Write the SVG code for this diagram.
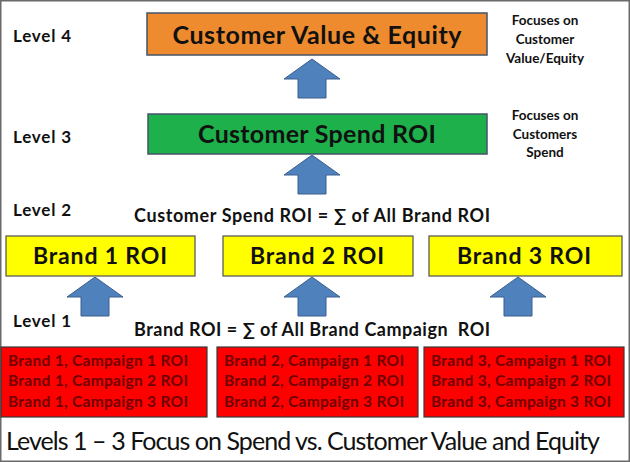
<svg xmlns="http://www.w3.org/2000/svg" width="630" height="462" viewBox="0 0 630 462">
<style>
  text { font-family: Lato, "Open Sans", "Liberation Sans", "DejaVu Sans", sans-serif; font-weight: bold; fill: #111; }
  .lvl { font-size: 17px; }
  .note { font-size: 13.5px; text-anchor: middle; }
  .title { font-size: 25px; text-anchor: middle; }
  .brand { font-size: 23px; text-anchor: middle; }
  .formula { font-size: 18px; }
  .camp { font-size: 15.5px; fill: #6E0000; }
  .bottom { font-size: 25px; font-weight: normal; }
  .box { stroke: #44546A; stroke-width: 1.5; }
  .rbox { fill: #FF0000; stroke: #3A3A3A; stroke-width: 1.2; }
  .ybox { fill: #FFFF00; stroke: #505050; stroke-width: 1.2; }
  .arrow { fill: #4F81BD; stroke: #3A5F8C; stroke-width: 1; }
</style>
<defs>
  <path id="up" d="M0,0 L28,20 L14,20 L14,39 L-14,39 L-14,20 L-28,20 Z"/>
</defs>
<rect x="0.75" y="0.75" width="628.5" height="460.5" fill="#FFFFFF" stroke="#6A6A6A" stroke-width="1.5"/>

<g id="level-labels">
  <text class="lvl" x="13" y="42" textLength="58">Level 4</text>
  <text class="lvl" x="13" y="143" textLength="58">Level 3</text>
  <text class="lvl" x="13" y="216" textLength="58">Level 2</text>
  <text class="lvl" x="13" y="327" textLength="58">Level 1</text>
</g>

<g id="node-level4">
  <rect class="box" x="147" y="13" width="340" height="42" fill="#EE8B2F"/>
  <text class="title" x="317" y="44" textLength="289">Customer Value &amp; Equity</text>
</g>
<g id="note-level4">
  <text class="note" x="545" y="25">Focuses on</text>
  <text class="note" x="545" y="44">Customer</text>
  <text class="note" x="545" y="63">Value/Equity</text>
</g>

<g id="node-level3">
  <rect class="box" x="148" y="114" width="339" height="40" fill="#1DB04B"/>
  <text class="title" x="317" y="143" textLength="238">Customer Spend ROI</text>
</g>
<g id="note-level3">
  <text class="note" x="545" y="120">Focuses on</text>
  <text class="note" x="545" y="139">Customers</text>
  <text class="note" x="545" y="157">Spend</text>
</g>

<g id="formula-level2">
  <text class="formula" x="134" y="222" textLength="356">Customer Spend ROI = ∑ of All Brand ROI</text>
</g>

<g id="node-brand1">
  <rect class="ybox" x="6" y="236" width="189" height="40"/>
  <text class="brand" x="100" y="264" textLength="134">Brand 1 ROI</text>
</g>
<g id="node-brand2">
  <rect class="ybox" x="223" y="236" width="190" height="40"/>
  <text class="brand" x="317" y="264" textLength="134">Brand 2 ROI</text>
</g>
<g id="node-brand3">
  <rect class="ybox" x="429" y="236" width="193" height="40"/>
  <text class="brand" x="524" y="264" textLength="134">Brand 3 ROI</text>
</g>

<g id="formula-level1">
  <text class="formula" x="134" y="336" textLength="356">Brand ROI = ∑ of All Brand Campaign&#160; ROI</text>
</g>

<g id="node-campaigns1">
  <rect class="rbox" x="1" y="347" width="206" height="70"/>
  <text class="camp" x="8" y="366" textLength="180">Brand 1, Campaign 1 ROI</text>
  <text class="camp" x="8" y="386" textLength="180">Brand 1, Campaign 2 ROI</text>
  <text class="camp" x="8" y="407" textLength="180">Brand 1, Campaign 3 ROI</text>
</g>
<g id="node-campaigns2">
  <rect class="rbox" x="217" y="347" width="201" height="70"/>
  <text class="camp" x="224" y="366" textLength="180">Brand 2, Campaign 1 ROI</text>
  <text class="camp" x="224" y="386" textLength="180">Brand 2, Campaign 2 ROI</text>
  <text class="camp" x="224" y="407" textLength="180">Brand 2, Campaign 3 ROI</text>
</g>
<g id="node-campaigns3">
  <rect class="rbox" x="424" y="347" width="200" height="70"/>
  <text class="camp" x="431" y="366" textLength="180">Brand 3, Campaign 1 ROI</text>
  <text class="camp" x="431" y="386" textLength="180">Brand 3, Campaign 2 ROI</text>
  <text class="camp" x="431" y="407" textLength="180">Brand 3, Campaign 3 ROI</text>
</g>

<g id="connectors">
  <use href="#up" class="arrow" x="312" y="59"/>
  <use href="#up" class="arrow" x="312" y="155"/>
  <use href="#up" class="arrow" x="95" y="277"/>
  <use href="#up" class="arrow" x="312" y="277"/>
  <use href="#up" class="arrow" x="518" y="277"/>
</g>

<g id="caption">
  <text class="bottom" x="6" y="450" textLength="594">Levels 1 – 3 Focus on Spend vs. Customer Value and Equity</text>
</g>
</svg>
